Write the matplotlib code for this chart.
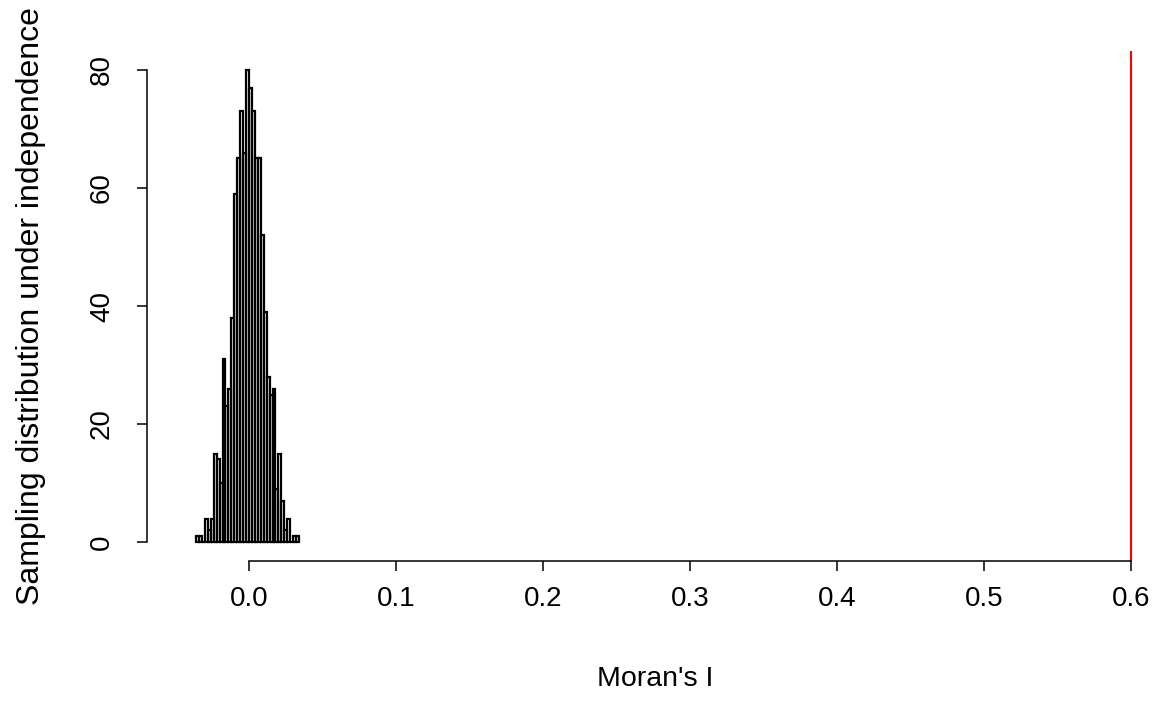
import matplotlib
matplotlib.use("Agg")
import matplotlib.pyplot as plt
import numpy as np

plt.rcParams['font.family'] = ['Liberation Sans', 'DejaVu Sans']

# histogram of permuted Moran's I values (bin width 0.002)
bin_start = -0.036
bin_width = 0.002
counts = [1, 1, 0, 4, 2, 4, 15, 14, 10, 31, 23, 26, 38, 59, 65, 73, 66, 80,
          77, 73, 65, 65, 52, 39, 28, 25, 26, 9, 15, 7, 2, 4, 0, 1, 1]
observed_I = 0.6

x_ticks = [0.0, 0.1, 0.2, 0.3, 0.4, 0.5, 0.6]
y_ticks = [0, 20, 40, 60, 80]

lefts = bin_start + bin_width * np.arange(len(counts))

fig = plt.figure(figsize=(11.61, 7.17), dpi=100)
ax = fig.add_axes([147 / 1161, 156 / 717, (1163 - 147) / 1161, 510 / 717])

ax.bar(lefts, counts, width=bin_width, align='edge', fill=False,
       edgecolor='black', linewidth=1.6)
ax.axvline(observed_I, color='red', linewidth=1.5)

ax.set_xlim(-0.0694, 0.6218)
ax.set_ylim(-3.2, 83.2)

for s in ['top', 'right']:
    ax.spines[s].set_visible(False)
ax.spines['bottom'].set_bounds(x_ticks[0], x_ticks[-1])
ax.spines['left'].set_bounds(y_ticks[0], y_ticks[-1])
ax.spines['bottom'].set_linewidth(1.1)
ax.spines['left'].set_linewidth(1.1)

ax.set_xticks(x_ticks)
ax.set_xticklabels(['%.1f' % v for v in x_ticks])
ax.set_yticks(y_ticks)
ax.set_yticklabels([str(v) for v in y_ticks], rotation=90, va='center')
ax.tick_params(axis='both', length=7, width=1.1, labelsize=20)
ax.tick_params(axis='x', pad=11)
ax.tick_params(axis='y', pad=16)

ax.set_xlabel("Moran's I", fontsize=20.5, labelpad=39)
ax.set_ylabel("Sampling distribution under independence", fontsize=23, labelpad=31)

fig.savefig("out.png", dpi=100)
